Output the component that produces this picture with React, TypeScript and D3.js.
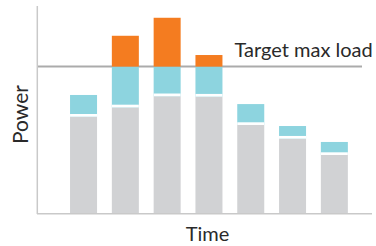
import React from "react";
import * as d3 from "d3";

const categories = ["T1", "T2", "T3", "T4", "T5", "T6", "T7"];
const baseLoad = [47.0, 51.5, 56.9, 56.7, 43.0, 36.4, 28.5];
const flexLoad = [10.5, 19.7, 14.3, 14.5, 10.1, 6.1, 6.3];
const excessLoad = [0, 14.9, 23.6, 5.6, 0, 0, 0];
const targetMax = 71.2;
const xLabel = "Time";
const yLabel = "Power";
const targetLabel = "Target max load";

const W = 376;
const H = 246;
const FONT = "Lato, 'Open Sans', sans-serif";

export default function App() {
  const x = d3.scaleBand<string>().domain(categories).range([36.6, 381.3]).paddingInner(0.354).paddingOuter(0.8);
  const y = d3.scaleLinear().domain([0, 100]).range([214, 7]);
  const bw = x.bandwidth();
  const gap = 2.7;

  return (
    <svg width={W} height={H} style={{ position: "fixed", left: 0, top: 0, background: "#fff" }}>
      <line x1={37} x2={362} y1={y(targetMax)} y2={y(targetMax)} stroke="#ABABAB" strokeWidth={2} />
      {categories.map((c, i) => {
        const x0 = x(c)!;
        const b = baseLoad[i];
        const f = flexLoad[i];
        const e = excessLoad[i];
        return (
          <g key={c}>
            <rect x={x0} y={y(b)} width={bw} height={y(0) - y(b)} fill="#D1D2D4" />
            <rect x={x0} y={y(b + f)} width={bw} height={y(b) - y(b + f)} fill="#8DD4DF" />
            <rect x={x0} y={y(b) - gap} width={bw} height={gap} fill="#FFFFFF" />
            {e > 0 && (
              <rect x={x0} y={y(targetMax + e)} width={bw} height={y(targetMax) - y(targetMax + e)} fill="#F47C20" />
            )}
          </g>
        );
      })}
      <line x1={37.3} x2={37.3} y1={6} y2={214} stroke="#C9C9C9" strokeWidth={1.5} />
      <line x1={37} x2={372} y1={213.8} y2={213.8} stroke="#C9C9C9" strokeWidth={1.5} />
      <text x={234.5} y={56.7} fontFamily={FONT} fontSize={20} fill="#2A2A2A">{targetLabel}</text>
      <text x={207.5} y={241} textAnchor="middle" fontFamily={FONT} fontSize={20} fill="#2A2A2A">{xLabel}</text>
      <text transform={`translate(28.3,114.5) rotate(-90)`} textAnchor="middle" fontFamily={FONT} fontSize={21} fill="#2A2A2A">{yLabel}</text>
    </svg>
  );
}
